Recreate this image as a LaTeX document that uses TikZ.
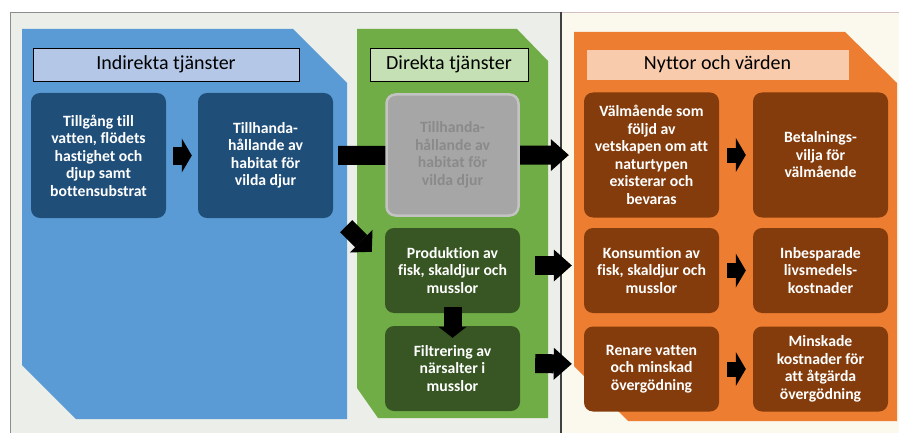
\documentclass[tikz,border=0pt]{standalone}
\usepackage{fontspec}
\setmainfont{Carlito}[Ligatures=NoCommon]
\usetikzlibrary{arrows.meta,calc}
\definecolor{panelL}{HTML}{ECEEE9}
\definecolor{panelR}{HTML}{FBF8EE}
\definecolor{bluebg}{HTML}{5B9BD5}
\definecolor{bluebox}{HTML}{1F4E79}
\definecolor{bluetitle}{HTML}{B4C7E7}
\definecolor{greenbg}{HTML}{70AD47}
\definecolor{greenbox}{HTML}{375623}
\definecolor{greentitle}{HTML}{C5E0B4}
\definecolor{orangebg}{HTML}{ED7D31}
\definecolor{orangebox}{HTML}{843C0C}
\definecolor{orangetitle}{HTML}{F8CBAD}
\definecolor{grayfill}{HTML}{A6A6A6}
\definecolor{grayline}{HTML}{C3C3C3}
\definecolor{graytext}{HTML}{8A8A8A}
\begin{document}
\begin{tikzpicture}[x=1pt,y=-1pt,
  box/.style={rounded corners=9pt, minimum width=135pt, align=center,
    text=white, font=\bfseries\fontsize{15.7}{17.5}\selectfont, inner sep=0pt},
  tallbox/.style={box, minimum height=125pt},
  shortbox/.style={box, minimum height=85pt},
  title/.style={draw, line width=0.6pt, minimum height=33pt, inner sep=0pt,
    font=\fontsize{20}{24}\selectfont},
  shortarrow/.style={line width=18pt, -{Triangle[length=10pt,width=34pt,line width=0pt]}},
  longarrow/.style={line width=19pt, -{Triangle[length=18pt,width=32pt,line width=0pt]}},
]
\useasboundingbox (0,0) rectangle (899,433);
\fill[white] (0,0) rectangle (899,433);
% panels
\filldraw[fill=panelL, draw=black!45, line width=0.8pt] (10,12) rectangle (561,440);
\fill[panelR] (561,12) rectangle (905,440);
\draw[red!30!black!25, line width=0.8pt] (561,12) -- (905,12);
\draw[black!75, line width=1.4pt] (561,12) -- (561,440);
% coloured background shapes
\fill[bluebg] (22,29) -- (293,29) -- (347,83) -- (347,419) -- (76,419) -- (22,365) -- cycle;
\fill[greenbg] (357,29) -- (517,29) -- (548,61) -- (548,418) -- (378,418) -- (357,388) -- cycle;
\fill[orangebg] (574,32) -- (845,32) -- (897,83) -- (897,421) -- (628,421) -- (574,366) -- cycle;
% titles
\node[title, fill=bluetitle, minimum width=266pt] (tI) at (166,64.5) {Indirekta tjänster};
\node[title, fill=greentitle, minimum width=158pt] (tD) at (449,64.5) {Direkta tjänster};
\node[title, fill=orangetitle, draw=orangebg, minimum width=263pt, minimum height=31pt] (tN) at (717.5,64.5) {Nyttor och värden};
% boxes
\node[tallbox, fill=bluebox] (b1) at (98.5,155.5) {Tillgång till\\vatten, flödets\\hastighet och\\djup samt\\bottensubstrat};
\node[tallbox, fill=bluebox] (b2) at (265.5,155.5) {Tillhanda-\\hållande av\\habitat för\\vilda djur};
\node[tallbox, fill=orangebox] (v1) at (651.5,155) {Välmående som\\följd av\\vetskapen om att\\naturtypen\\existerar och\\bevaras};
\node[tallbox, fill=orangebox] (v2) at (820.5,155) {Betalnings-\\vilja för\\välmående};
\draw[longarrow, shorten <=5pt, shorten >=15pt] (b2.east) -- (v1.west);
\node[tallbox, fill=grayfill, draw=grayline, line width=2.5pt, text=graytext, minimum width=132pt, minimum height=121pt] (g) at (452.5,155) {Tillhanda-\\hållande av\\habitat för\\vilda djur};
\node[shortbox, fill=greenbox] (p) at (452.5,270.5) {Produktion av\\fisk, skaldjur och\\musslor};
\node[shortbox, fill=greenbox] (f) at (452.5,368.5) {Filtrering av\\närsalter i\\musslor};
\node[shortbox, fill=orangebox] (k1) at (651.5,270.5) {Konsumtion av\\fisk, skaldjur och\\musslor};
\node[shortbox, fill=orangebox] (k2) at (820.5,270.5) {Inbesparade\\livsmedels-\\kostnader};
\node[shortbox, fill=orangebox] (r1) at (651.5,369) {Renare vatten\\och minskad\\övergödning};
\node[shortbox, fill=orangebox] (r2) at (820.5,369) {Minskade\\kostnader för\\att åtgärda\\övergödning};
% arrows
\draw[shortarrow, shorten <=7pt, shorten >=6pt] (b1.east) -- (b2.west);
\draw[shortarrow, line width=15pt, shorten <=8pt, shorten >=7pt] (v1.east) -- (v2.west);
\draw[shortarrow, line width=15pt, shorten <=8pt, shorten >=7pt] (k1.east) -- (k2.west);
\draw[shortarrow, line width=15pt, shorten <=8pt, shorten >=7pt] (r1.east) -- (r2.west);
\draw[longarrow, shorten <=15pt, shorten >=12pt] ([yshift=5pt]p.east) -- ([yshift=5pt]k1.west);
\draw[longarrow, shorten <=15pt, shorten >=12pt] ([yshift=5pt]f.east) -- ([yshift=5pt]r1.west);
\draw[line width=18pt, -{Triangle[length=11pt,width=28pt,line width=0pt]}, shorten <=-6pt, shorten >=-12pt] (p.south) -- (f.north);
\coordinate (dA) at ([shift={(13,8)}]b2.south east);
\coordinate (dB) at ([shift={(-13,24)}]p.north west);
\draw[line width=17pt, -{Triangle[length=15pt,width=32pt,line width=0pt]}] (dA) -- (dB);
\end{tikzpicture}
\end{document}
